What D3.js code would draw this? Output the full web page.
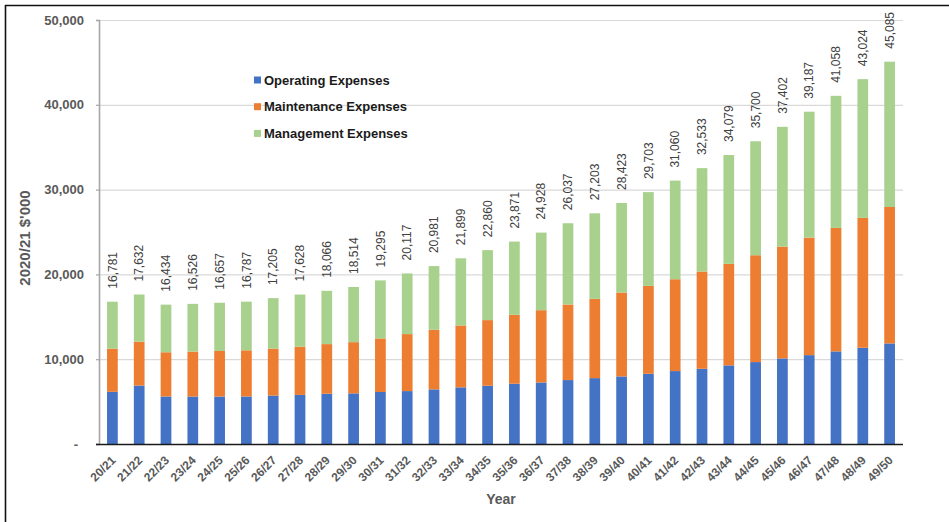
<!DOCTYPE html>
<html>
<head>
<meta charset="utf-8">
<script src="https://cdn.jsdelivr.net/npm/d3@7/dist/d3.min.js"></script>
<style>
  html, body { margin: 0; padding: 0; background: #fff; }
  svg { display: block; font-family: "Liberation Sans", Arial, sans-serif; }
</style>
</head>
<body>
<svg id="chart" width="949" height="522"></svg>
<script>
// Financial years on the x axis
const years = ["20/21","21/22","22/23","23/24","24/25","25/26","26/27","27/28","28/29","29/30",
  "30/31","31/32","32/33","33/34","34/35","35/36","36/37","37/38","38/39","39/40",
  "40/41","41/42","42/43","43/44","44/45","45/46","46/47","47/48","48/49","49/50"];

// Expense components, 2020/21 $'000
const operating = [6150, 6890, 5600, 5600, 5600, 5600, 5710, 5790, 5930, 5970,
  6130, 6240, 6440, 6680, 6870, 7110, 7260, 7540, 7770, 7970,
  8280, 8600, 8870, 9270, 9660, 10090, 10480, 10920, 11350, 11860];
const maintenance = [5100, 5180, 5220, 5300, 5370, 5450, 5540, 5690, 5850, 6040,
  6320, 6720, 7030, 7300, 7740, 8120, 8520, 8910, 9350, 9890,
  10370, 10830, 11470, 11970, 12600, 13190, 13860, 14560, 15310, 16090];
const management = [5531, 5562, 5614, 5626, 5687, 5737, 5955, 6148, 6286, 6504,
  6845, 7157, 7511, 7919, 8250, 8641, 9148, 9587, 10083, 10563,
  11053, 11630, 12193, 12839, 13440, 14122, 14847, 15578, 16364, 17135];

const seriesNames = ["Operating Expenses", "Maintenance Expenses", "Management Expenses"];
const seriesKeys = ["operating", "maintenance", "management"];
const seriesColors = ["#4472C4", "#ED7D31", "#A9D18E"];

const yTicks = [0, 10000, 20000, 30000, 40000, 50000];

const rows = years.map((y, i) => ({
  year: y,
  operating: operating[i],
  maintenance: maintenance[i],
  management: management[i]
}));

const svg = d3.select("#chart");
const W = 949, H = 522;
const plot = { left: 99, right: 903, top: 20, bottom: 444 };

// Frame lines (left and top)
svg.append("line").attr("x1", 5.5).attr("x2", 5.5).attr("y1", 5).attr("y2", H)
  .attr("stroke", "#111").attr("stroke-width", 1.6);
svg.append("line").attr("x1", 5).attr("x2", W).attr("y1", 5.5).attr("y2", 5.5)
  .attr("stroke", "#111").attr("stroke-width", 1.6);

const x = d3.scaleBand().domain(years).range([plot.left, plot.right])
  .paddingInner(0.6).paddingOuter(0.3);
const y = d3.scaleLinear().domain([0, 50000]).range([plot.bottom, plot.top]);

// Gridlines
svg.append("g").selectAll("line").data(yTicks.filter(d => d > 0)).join("line")
  .attr("x1", plot.left).attr("x2", plot.right)
  .attr("y1", d => y(d) + 0.5).attr("y2", d => y(d) + 0.5)
  .attr("stroke", "#d9d9d9").attr("stroke-width", 1.2);

// Y axis
const fmt = d3.format(",");
const yAxis = svg.append("g").attr("transform", `translate(${plot.left},0)`)
  .call(d3.axisLeft(y).tickValues(yTicks).tickSize(3).tickPadding(12)
    .tickFormat(d => d === 0 ? "-" : fmt(d)));
yAxis.select(".domain").attr("stroke", "#a6a6a6").attr("stroke-width", 1.6);
yAxis.selectAll(".tick line").attr("stroke", "#a6a6a6").attr("stroke-width", 1.2);
yAxis.selectAll(".tick text")
  .attr("fill", "#595959").attr("font-size", 13).attr("font-weight", "bold")
  .attr("font-family", "Liberation Sans, Arial, sans-serif");
yAxis.selectAll(".tick").filter(d => d === 0).select("text").attr("dx", -6);

// Stacked bars
const stack = d3.stack().keys(seriesKeys);
const layers = stack(rows);
svg.append("g").selectAll("g").data(layers).join("g")
  .attr("fill", (d, i) => seriesColors[i])
  .selectAll("rect").data(d => d).join("rect")
  .attr("x", d => x(d.data.year))
  .attr("width", x.bandwidth())
  .attr("y", d => y(d[1]))
  .attr("height", d => y(d[0]) - y(d[1]));

// X baseline
svg.append("line").attr("x1", plot.left - 3).attr("x2", plot.right)
  .attr("y1", plot.bottom + 0.5).attr("y2", plot.bottom + 0.5)
  .attr("stroke", "#1a1a1a").attr("stroke-width", 1.6);

// X tick labels
svg.append("g").selectAll("text").data(years).join("text")
  .attr("transform", d => `translate(${x(d) + x.bandwidth() / 2 + 4},${plot.bottom + 17}) rotate(-45)`)
  .attr("text-anchor", "end")
  .attr("fill", "#595959").attr("font-size", 12).attr("font-weight", "bold")
  .text(d => d);

// Total labels above each bar
svg.append("g").selectAll("text").data(rows).join("text")
  .attr("transform", d => {
    const total = d.operating + d.maintenance + d.management;
    return `translate(${x(d.year) + x.bandwidth() / 2},${y(total) - 13}) rotate(-90)`;
  })
  .attr("dy", "0.35em")
  .attr("text-anchor", "start")
  .attr("fill", "#404040").attr("font-size", 12)
  .text(d => fmt(d.operating + d.maintenance + d.management));

// Axis titles
svg.append("text")
  .attr("transform", `translate(30,238) rotate(-90)`)
  .attr("text-anchor", "middle")
  .attr("fill", "#595959").attr("font-size", 15).attr("font-weight", "bold")
  .text("2020/21 $'000");
svg.append("text")
  .attr("x", (plot.left + plot.right) / 2).attr("y", 504)
  .attr("text-anchor", "middle")
  .attr("fill", "#595959").attr("font-size", 14).attr("font-weight", "bold")
  .text("Year");

// Legend
const legend = svg.append("g").selectAll("g").data(seriesNames).join("g")
  .attr("transform", (d, i) => `translate(254,${80 + i * 26.7})`);
legend.append("rect").attr("x", 0).attr("y", -3.5).attr("width", 7).attr("height", 7)
  .attr("fill", (d, i) => seriesColors[i]);
legend.append("text").attr("x", 10).attr("dy", "0.35em")
  .attr("fill", "#1a1a1a").attr("font-size", 13).attr("font-weight", "bold")
  .text(d => d);
</script>
</body>
</html>
